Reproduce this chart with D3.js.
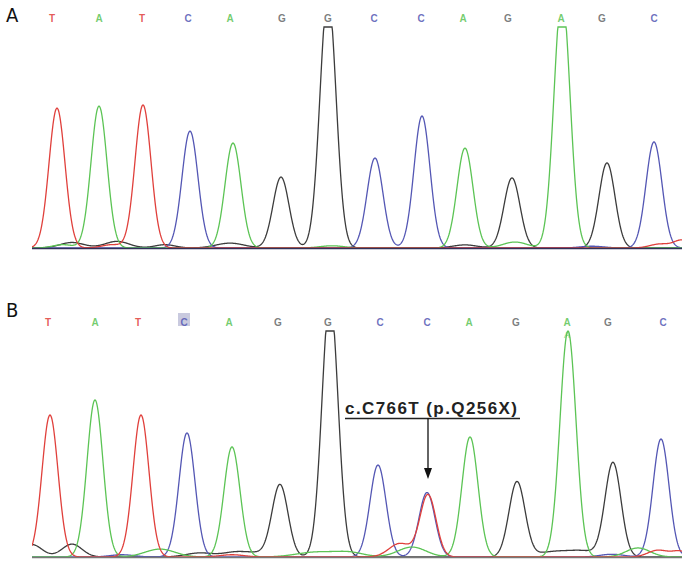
<!DOCTYPE html>
<html>
<head>
<meta charset="utf-8">
<script src="https://cdn.jsdelivr.net/npm/d3@7"></script>
<style>
  body { margin: 0; background: #fff; }
  svg { display: block; }
</style>
</head>
<body>
<div id="chart"></div>
<script>
// base calls shown above each trace
var basesA = ["T", "A", "T", "C", "A", "G", "G", "C", "C", "A", "G", "A", "G", "C"];
var basesB = ["T", "A", "T", "C", "A", "G", "G", "C", "C", "A", "G", "A", "G", "C"];
var letterPosA = [20, 67, 110, 156, 198, 250, 296, 342, 389, 431, 476, 529, 570, 622];
var letterPosB = [16, 63, 106, 152, 197, 246, 296, 348, 395, 437, 484, 535, 576, 631];

// main peaks: scan position and signal height (1000 = top of panel)
var peakPosA = [25, 67, 111, 158, 201, 249, 296, 343, 390, 433, 480, 530, 575, 622];
var peakHeightA = [633, 642, 647, 529, 475, 321, 1150, 407, 597, 452, 317, 1150, 385, 480];
var peakPosB = [18, 63, 109, 155, 200, 248, 298, 346, 395, 438, 485, 536, 581, 629];
var peakHeightB = [628, 695, 628, 549, 487, 319, 1150, 407, 285, 531, 332, 1000, 416, 522];

// secondary peak at the mutation (T under the C)
var mutantPos = [396];
var mutantHeight = [275];

// small background bumps: base, position, height, width
var noiseA = [
  ["G", 40, 25, 12], ["G", 85, 30, 12], ["T", 80, 15, 10], ["G", 133, 15, 10],
  ["G", 198, 22, 14], ["A", 31, 15, 10], ["A", 300, 10, 12], ["G", 433, 14, 12],
  ["A", 483, 27, 12], ["T", 628, 18, 10], ["T", 650, 35, 8], ["C", 560, 8, 12]
];
var noiseB = [
  ["G", 0, 55, 10], ["G", 40, 57, 10], ["A", 128, 35, 15], ["G", 168, 18, 14],
  ["G", 203, 20, 12], ["G", 225, 16, 12], ["A", 285, 22, 20], ["A", 318, 18, 14],
  ["T", 368, 60, 11], ["A", 380, 44, 14], ["G", 523, 24, 18], ["G", 553, 22, 14],
  ["A", 606, 40, 12], ["T", 626, 30, 10], ["T", 648, 25, 8], ["C", 580, 12, 12],
  ["T", 200, 10, 12], ["C", 90, 10, 12]
];

var colors = { T: "#e0403c", A: "#5cc455", C: "#5457b4", G: "#3c3c3c" };
var sigma = 8;

var width = 690;
var height = 571;

var svg = d3.select("#chart")
  .append("svg")
  .attr("width", width)
  .attr("height", height);

var x = d3.scaleLinear().domain([0, 650]).range([32, 682]);

function drawPanel(opt) {
  var y = d3.scaleLinear().domain([0, 1000]).range([opt.base, opt.top]);

  var clipId = "clip" + opt.name;
  svg.append("clipPath").attr("id", clipId)
    .append("rect")
    .attr("x", x(0)).attr("y", opt.top - 2)
    .attr("width", x(650) - x(0)).attr("height", opt.base - opt.top + 4);

  var g = svg.append("g").attr("clip-path", "url(#" + clipId + ")");

  // collect gaussian components for each base
  var comps = { T: [], A: [], C: [], G: [] };
  opt.bases.forEach(function (b, i) {
    comps[b].push([opt.pos[i], opt.heights[i], sigma]);
  });
  opt.extra.forEach(function (e) { comps[e[0]].push([e[1], e[2], e[3]]); });

  var xs = d3.range(0, 650.5, 0.5);
  ["G", "C", "A", "T"].forEach(function (b) {
    var pts = xs.map(function (s) {
      var v = 0;
      comps[b].forEach(function (c) {
        v += c[1] * Math.exp(-((s - c[0]) * (s - c[0])) / (2 * c[2] * c[2]));
      });
      return [s, Math.min(v, 1000)];
    });
    g.append("path")
      .datum(pts)
      .attr("fill", "none")
      .attr("stroke", colors[b])
      .attr("stroke-width", 1.3)
      .attr("d", d3.line()
        .x(function (d) { return x(d[0]); })
        .y(function (d) { return y(d[1]); }));
  });

  // baseline
  svg.append("line")
    .attr("x1", x(0)).attr("x2", x(650))
    .attr("y1", opt.base + 0.5).attr("y2", opt.base + 0.5)
    .attr("stroke", opt.baseColor)
    .attr("stroke-width", 1.5);

  // base letters
  svg.selectAll(null)
    .data(opt.letters)
    .enter()
    .append("text")
    .attr("x", function (d, i) { return x(opt.letterPos[i]); })
    .attr("y", opt.letterY)
    .attr("text-anchor", "middle")
    .attr("font-family", "Liberation Sans, Arial, sans-serif")
    .attr("font-weight", "bold")
    .attr("font-size", 10)
    .attr("fill", function (d) { return d === "G" ? "#666" : colors[d]; })
    .attr("fill-opacity", 0.85)
    .text(function (d) { return d; });

  // panel label
  svg.append("text")
    .attr("x", 6)
    .attr("y", opt.labelY)
    .attr("font-family", "Liberation Sans Narrow, DejaVu Sans Condensed, sans-serif")
    .attr("font-size", 20)
    .attr("fill", "#111")
    .text(opt.name);

  return y;
}

drawPanel({
  name: "A", base: 248, top: 27, bases: basesA, pos: peakPosA, heights: peakHeightA,
  extra: noiseA, letters: basesA, letterPos: letterPosA, letterY: 22, labelY: 22,
  baseColor: "#30305a"
});

// highlight box behind the mutated base call in panel B
svg.append("rect")
  .attr("x", x(letterPosB[3]) - 6).attr("y", 313)
  .attr("width", 12).attr("height", 13)
  .attr("fill", "#c9cadf");

var yB = drawPanel({
  name: "B", base: 557, top: 331,
  bases: basesB.concat(["T"]), pos: peakPosB.concat(mutantPos), heights: peakHeightB.concat(mutantHeight),
  extra: noiseB, letters: basesB, letterPos: letterPosB, letterY: 326, labelY: 317,
  baseColor: "#777"
});

// secondary call under the A
svg.append("text")
  .attr("x", x(letterPosB[11]))
  .attr("y", 338)
  .attr("text-anchor", "middle")
  .attr("font-family", "Liberation Sans, Arial, sans-serif")
  .attr("font-weight", "bold")
  .attr("font-size", 9)
  .attr("fill", colors.A)
  .attr("fill-opacity", 0.6)
  .text("A");

// mutation annotation
var annX = x(mutantPos[0]);
svg.append("text")
  .attr("x", 345)
  .attr("y", 414)
  .attr("font-family", "Liberation Sans, Arial, sans-serif")
  .attr("font-weight", "bold")
  .attr("font-size", 17)
  .attr("textLength", 172)
  .attr("lengthAdjust", "spacing")
  .attr("fill", "#222")
  .text("c.C766T (p.Q256X)");

svg.append("line")
  .attr("x1", 345).attr("x2", 520)
  .attr("y1", 418.5).attr("y2", 418.5)
  .attr("stroke", "#222").attr("stroke-width", 1.5);

svg.append("line")
  .attr("x1", annX).attr("x2", annX)
  .attr("y1", 418).attr("y2", 470)
  .attr("stroke", "#111").attr("stroke-width", 1.3);

svg.append("path")
  .attr("d", "M" + (annX - 4) + ",468 L" + (annX + 4) + ",468 L" + annX + ",479 Z")
  .attr("fill", "#111");
</script>
</body>
</html>
